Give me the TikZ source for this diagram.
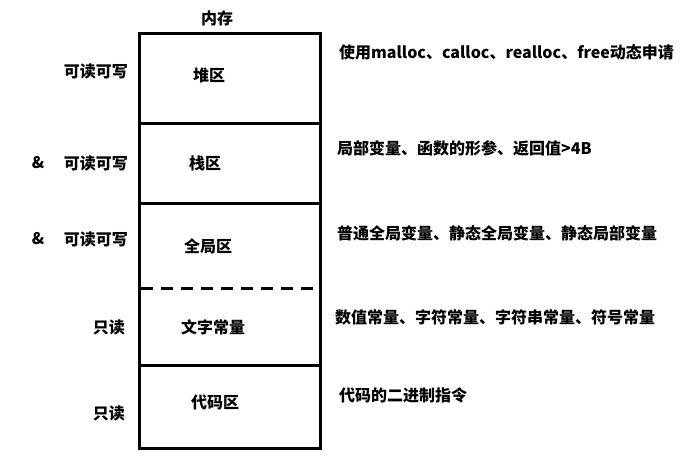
\documentclass[tikz,border=0pt]{standalone}
\usepackage{fontspec}
\setmainfont{Noto Sans CJK SC}
\usepackage{tikz}
\tikzset{
	lbl/.style={font=\bfseries\fontsize{16}{19}\selectfont, inner sep=0pt},
	rlbl/.style={lbl, anchor=east},
	note/.style={lbl, anchor=west}
}

\begin{document}
\begin{tikzpicture}[x=1pt, y=-1pt]
			\useasboundingbox (0,0) rectangle (690,469);
			% the memory column
			\draw[line width=3pt] (139,33) rectangle (320,448);
			\draw[line width=3pt] (139,123) -- (320,123);
			\draw[line width=3pt] (139,203) -- (320,203);
			\draw[line width=3pt, dash pattern=on 12pt off 8pt] (141,288) -- (320,288);
			\draw[line width=3pt] (139,365) -- (320,365);
			% region names
			\node[lbl] (mem) at (217,18) {内存};
			\node[lbl] (heap) at (209,75) {堆区};
			\node[lbl] (stack) at (205,163) {栈区};
			\node[lbl] (global) at (208,246) {全局区};
			\node[lbl] (const) at (213,327) {文字常量};
			\node[lbl] (code) at (215,402) {代码区};
			% access rights
			\node[rlbl] (rwheap) at (128,71) {可读可写};
			\node[lbl] (ampstack) at (38,163) {\&};
			\node[rlbl] (rwstack) at (128,163) {可读可写};
			\node[lbl] (ampglobal) at (38,239) {\&};
			\node[rlbl] (rwglobal) at (128,239) {可读可写};
			\node[rlbl] (roconst) at (125,327) {只读};
			\node[rlbl] (rocode) at (125,413) {只读};
			% what is stored
			\node[note] (heapnote) at (339,52) {使用malloc、calloc、realloc、free动态申请};
			\node[note] (stacknote) at (337,148) {局部变量、函数的形参、返回值>4B};
			\node[note] (globalnote) at (337,233) {普通全局变量、静态全局变量、静态局部变量};
			\node[note] (constnote) at (335,317) {数值常量、字符常量、字符串常量、符号常量};
			\node[note] (codenote) at (339,395) {代码的二进制指令};
		\end{tikzpicture}
\end{document}
